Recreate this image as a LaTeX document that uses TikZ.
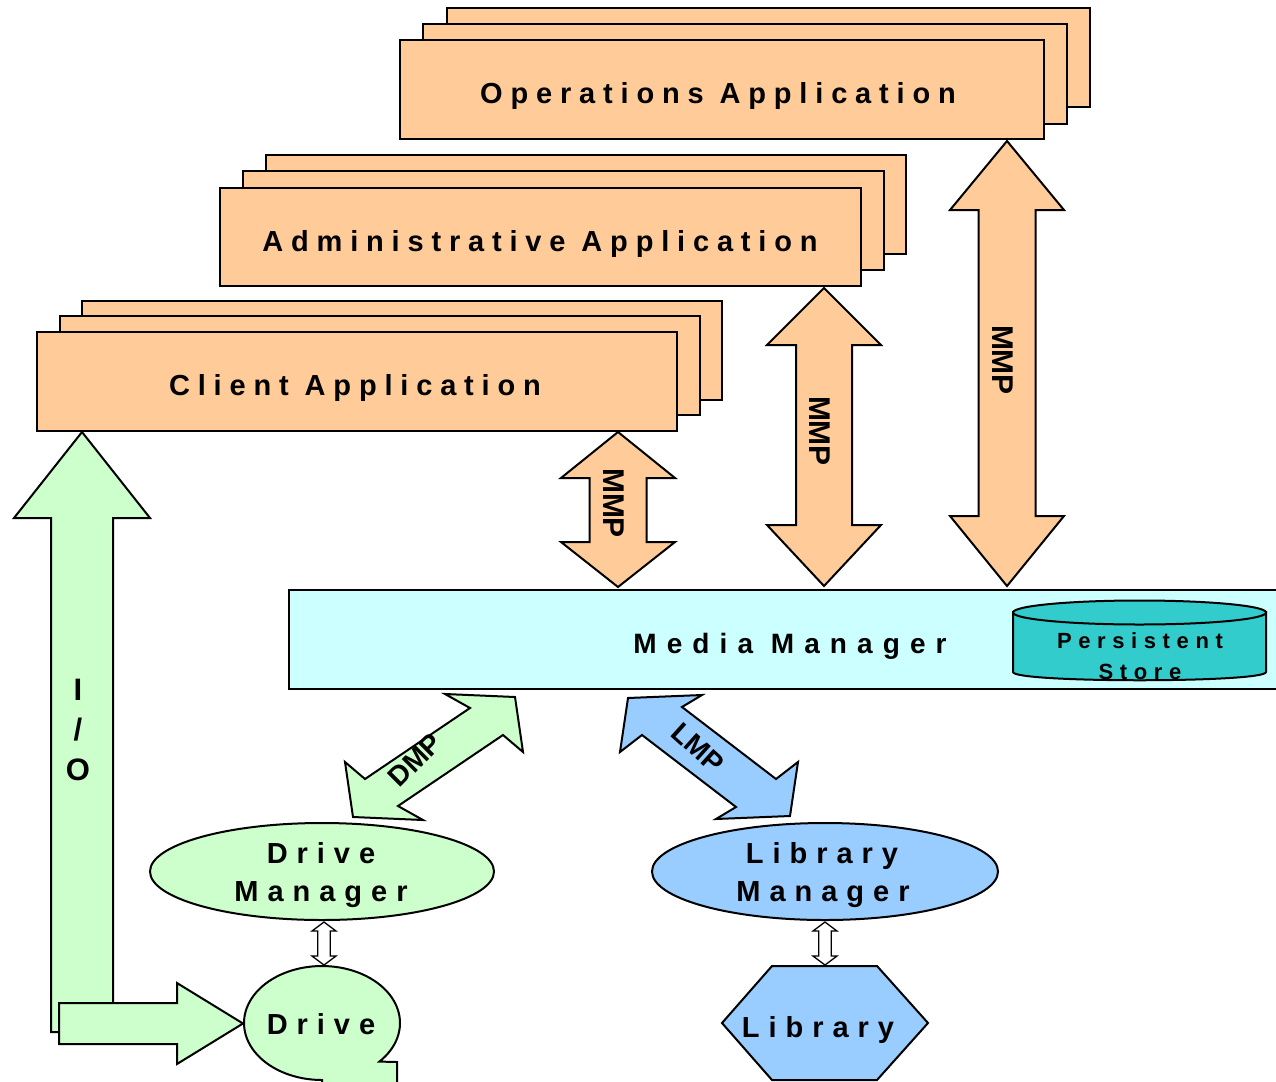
\documentclass[tikz,border=0pt]{standalone}
\usepackage{fontspec}
\setmainfont{Liberation Sans}
\newfontfamily\fA{Liberation Sans}[LetterSpace=27]
\newfontfamily\fB{Liberation Sans}[LetterSpace=36]
\newfontfamily\fC{Liberation Sans}[LetterSpace=31]
\newfontfamily\fP{Liberation Sans}[LetterSpace=30]
\usetikzlibrary{calc,shapes.geometric}
\definecolor{appor}{HTML}{FFCC99}
\definecolor{mmcyan}{HTML}{CCFFFF}
\definecolor{psteal}{HTML}{33CCCC}
\definecolor{iogreen}{HTML}{CCFFCC}
\definecolor{libblue}{HTML}{99CCFF}
\newcommand\rbox[6]{\node[#6,anchor=north west,minimum width={#4-#2},minimum height={#5-#3}] (#1) at (#2,#3) {};}
\newcommand\vdarrow[7]{%
 \draw[#7] (#1) -- ($(#1)+(#3,#5)$) -- ($(#1)+(#4,#5)$) -- ($(#2)+(#4,-#6)$) -- ($(#2)+(#3,-#6)$) -- (#2) -- ($(#2)+(-#3,-#6)$) -- ($(#2)+(-#4,-#6)$) -- ($(#1)+(-#4,#5)$) -- ($(#1)+(-#3,#5)$) -- cycle;}
\begin{document}
\begin{tikzpicture}[x=1pt,y=-1pt]
\tikzset{
 bord/.style={draw=black, line width=2pt, line join=miter},
 appbox/.style={bord, fill=appor, rectangle, inner sep=0pt, outer sep=0pt},
 lblA/.style={font=\fA\bfseries\fontsize{29}{32}\selectfont, inner sep=0pt, anchor=base},
 lblB/.style={font=\fB\bfseries\fontsize{28}{32}\selectfont, inner sep=0pt, anchor=base},
 lblC/.style={font=\fC\bfseries\fontsize{29}{32}\selectfont, inner sep=0pt, anchor=base},
 lblP/.style={font=\fP\bfseries\fontsize{22}{26}\selectfont, inner sep=0pt, anchor=base},
 lblIO/.style={font=\bfseries\fontsize{31}{34}\selectfont, inner sep=0pt, anchor=base},
 proto/.style={font=\bfseries\fontsize{30}{34}\selectfont, inner sep=0pt},
 protos/.style={font=\bfseries\fontsize{28}{32}\selectfont, inner sep=0pt},
 mmparrow/.style={bord, fill=appor},
 greenarrow/.style={bord, fill=iogreen},
 smallarrow/.style={draw=black, line width=1.3pt, fill=white, line join=miter},
}
\useasboundingbox (0,0) rectangle (1276,1081);
\clip (0,0) rectangle (1276,1081);
\fill[white] (0,0) rectangle (1276,1081);

% Operations Application stack
\rbox{opsC}{447}{8}{1090}{107}{appbox}
\rbox{opsB}{423}{24}{1067}{124}{appbox}
\rbox{opsA}{400}{40}{1044}{139}{appbox}
\node[lblA] (opst) at (718,103) {Operations Application};

% Administrative Application stack
\rbox{admC}{266}{155}{906}{254}{appbox}
\rbox{admB}{243}{171}{884}{270}{appbox}
\rbox{admA}{220}{188}{861}{286}{appbox}
\node[lblA] (admt) at (540,251) {Administrative Application};

% Client Application stack
\rbox{cliC}{82}{301}{722}{400}{appbox}
\rbox{cliB}{60}{316}{700}{415}{appbox}
\rbox{cliA}{37}{332}{677}{431}{appbox}
\node[lblA] (clit) at (355,395) {Client Application};

% Media Manager
\rbox{mm}{289}{590}{1290}{689}{bord, fill=mmcyan, rectangle, inner sep=0pt, outer sep=0pt}
\node[lblB] (mmt) at (790,653) {Media Manager};

% Persistent store cylinder
\draw[bord, fill=psteal] (1013,612) -- (1013,672) .. controls (1013,683) and (1266,683) .. (1266,672) -- (1266,612) -- cycle;
\draw[bord, fill=psteal] (1139.5,612.5) ellipse [x radius=126.5, y radius=12];
\node[lblP] (ps1) at (1140,648) {Persistent};
\node[lblP] (ps2) at (1140,679) {Store};

% MMP arrows
\coordinate (x1) at (618,0);
\coordinate (x2) at (824,0);
\coordinate (x3) at (1007,0);
\coordinate (m1t) at ($(x1 |- cliA.south)+(0,1)$);
\coordinate (m1b) at ($(x1 |- mm.north)+(0,-3)$);
\coordinate (m2t) at ($(x2 |- admA.south)+(0,2)$);
\coordinate (m2b) at ($(x2 |- mm.north)+(0,-4)$);
\coordinate (m3t) at ($(x3 |- opsA.south)+(0,2)$);
\coordinate (m3b) at ($(x3 |- mm.north)+(0,-4)$);
\vdarrow{m1t}{m1b}{57}{28.5}{46}{45}{mmparrow}
\vdarrow{m2t}{m2b}{57}{28}{57}{61}{mmparrow}
\vdarrow{m3t}{m3b}{57}{28.5}{69}{70}{mmparrow}
\node[proto, rotate=-90] (mmp1) at (614,503) {MMP};
\node[proto, rotate=-90] (mmp2) at (820,431) {MMP};
\node[proto, rotate=-90] (mmp3) at (1003,360) {MMP};

% I/O arrow
\draw[greenarrow] (82,432) -- (150,518) -- (113,518) -- (113,1032) -- (51,1032) -- (51,518) -- (14,518) -- cycle;
\draw[greenarrow] (243,1023.5) -- (177,1064) -- (177,1044) -- (59,1044) -- (59,1003) -- (177,1003) -- (177,983) -- cycle;
\node[lblIO] (io1) at (78,700) {I};
\node[lblIO] (io2) at (78,740) {/};
\node[lblIO] (io3) at (78,780) {O};

% DMP arrow
\draw[greenarrow] (515,697) -- (523,752) -- (503,735) -- (398,806) -- (423,820) -- (353,817) -- (345,762) -- (365,779) -- (470,708) -- (445,694) -- cycle;
\node[protos, rotate=45] (dmp) at (415,760) {DMP};

% LMP arrow
\draw[bord, fill=libblue] (628,698) -- (702,695) -- (682,707) -- (776,779) -- (798,762) -- (790,816) -- (716,819) -- (736,807) -- (642,735) -- (620,752) -- cycle;
\node[protos, rotate=-42] (lmp) at (698,748) {LMP};

% Drive Manager
\node[bord, ellipse, fill=iogreen, minimum width=344, minimum height=97, inner sep=0pt] (dm) at (322,871.5) {};
\node[lblC] (dm1) at (321,863) {Drive};
\node[lblC] (dm2) at (321,901) {Manager};

% Library Manager
\node[bord, ellipse, fill=libblue, minimum width=346, minimum height=97, inner sep=0pt] (lm) at (825,871.5) {};
\node[lblC] (lm1) at (822,863) {Library};
\node[lblC] (lm2) at (823,901) {Manager};

% Drive
\draw[bord, fill=iogreen] plot[domain=90:402.6, samples=90] ({322+78*cos(\x)},{1023+57*sin(\x)}) -- (397,1062) -- (397,1084) -- (322,1084) -- cycle;
\node[lblC] (drv) at (321,1034) {Drive};

% Library
\draw[bord, fill=libblue] (772,966) -- (877,966) -- (928,1023) -- (877,1080) -- (772,1080) -- (722,1023) -- cycle;
\node[lblC] (lib) at (818,1037) {Library};

% small double arrows
\coordinate (x4) at (324,0);
\coordinate (x5) at (825,0);
\coordinate (s1t) at ($(x4 |- dm.south)+(0,1)$);
\coordinate (s1b) at (324,965);
\coordinate (s2t) at ($(x5 |- lm.south)+(0,1)$);
\coordinate (s2b) at (825,965);
\vdarrow{s1t}{s1b}{12}{6.3}{9}{9}{smallarrow}
\vdarrow{s2t}{s2b}{12}{6.3}{9}{9}{smallarrow}
\end{tikzpicture}
\end{document}
